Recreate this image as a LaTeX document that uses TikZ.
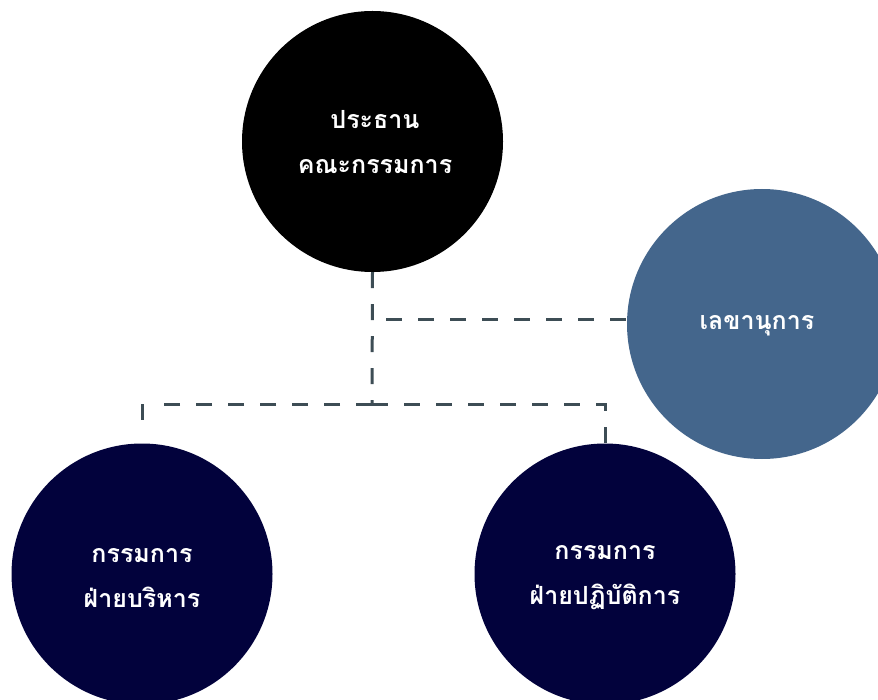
\documentclass[tikz,border=0pt]{standalone}
\usepackage{fontspec}
\newfontfamily\thaifont[Script=Thai]{Loma}
\definecolor{navyc}{HTML}{02023C}
\definecolor{bluec}{HTML}{44668C}
\definecolor{linec}{HTML}{3D4D55}
\begin{document}
\begin{tikzpicture}[x=1pt,y=-1pt,
  circ/.style={circle,inner sep=0pt,minimum size=#1},
  lbl/.style={text=white,font=\thaifont\bfseries\fontsize{25}{45}\selectfont,align=center},
  conn/.style={draw=linec,line width=3pt,dash pattern=on 16pt off 16pt}]
\useasboundingbox (0,0) rectangle (878,700);
\clip (0,0) rectangle (878,700);
\node[circ=261pt,fill=black] (chair) at (372.5,141.5) {};
\node[circ=270pt,fill=bluec] (sec) at (762,324) {};
\node[circ=261pt,fill=navyc] (exec) at (142,574) {};
\node[circ=261pt,fill=navyc] (oper) at (605,574) {};
\node[lbl] (chairt) at (375,142) {ประธาน\\คณะกรรมการ};
\node[lbl] (sect) at (757,326) {เลขานุการ};
\node[lbl] (exect) at (142,578) {กรรมการ\\ฝ่ายบริหาร};
\node[lbl] (opert) at (605,578) {กรรมการ\\ฝ่ายปฏิบัติการ};
\coordinate (j) at (372,404);
\coordinate (s0) at (386,320);
\coordinate (lb) at (142,430);
\path[conn] (chair.south) -- (j);
\path[conn] (s0) -- (s0 -| sec.west);
\path[conn] (j) -- (149,404);
\path[conn] (142,404) -- (lb);
\path[conn] (j) -| (oper.north);
\end{tikzpicture}
\end{document}
